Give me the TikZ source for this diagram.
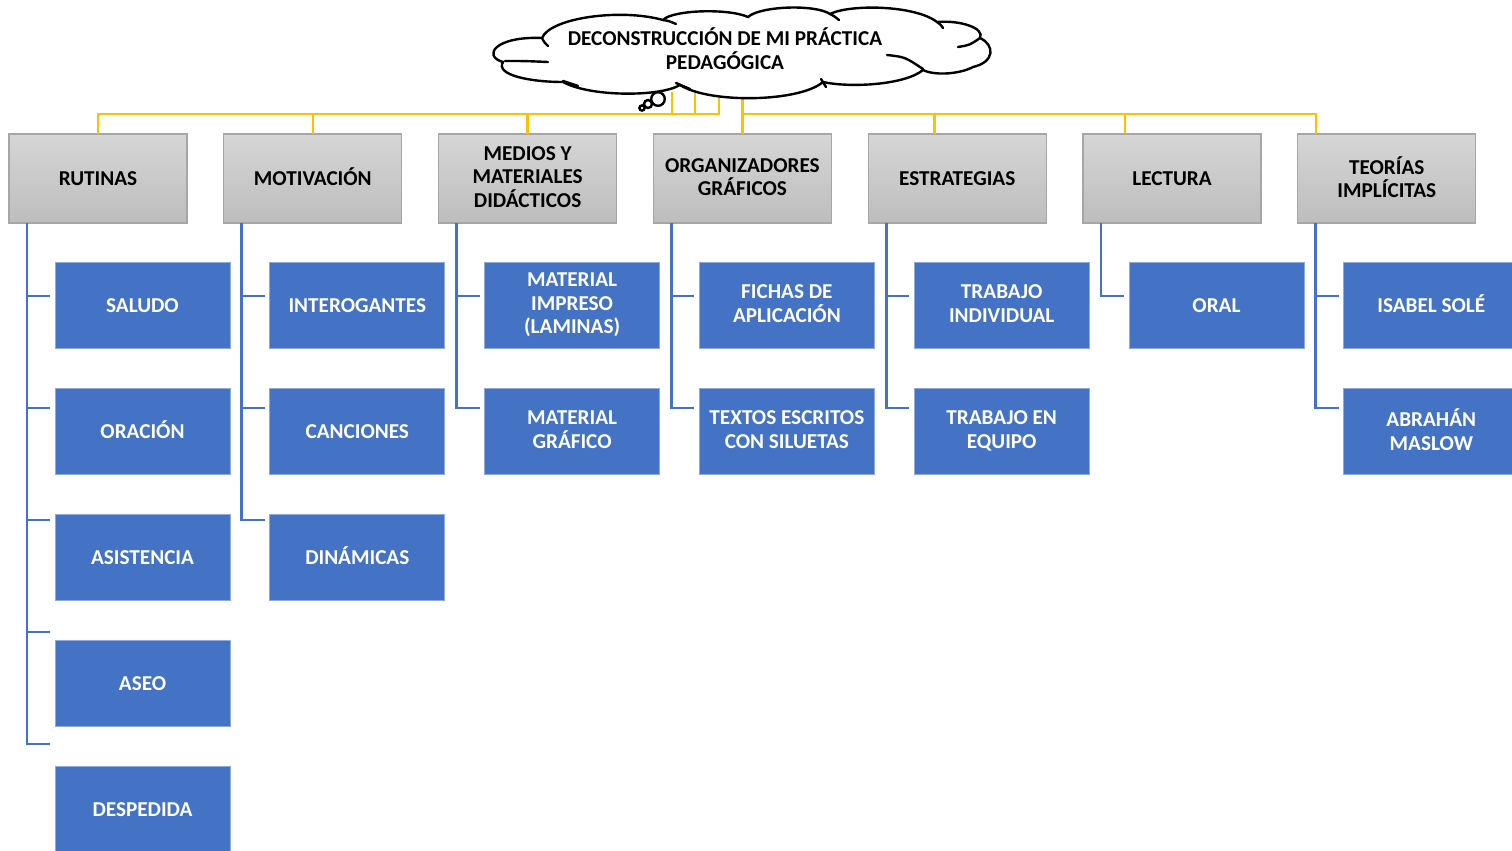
\documentclass[tikz,border=0pt]{standalone}
\usepackage{fontspec}
\setmainfont{Carlito}
\usetikzlibrary{calc}
\definecolor{boxblue}{HTML}{4472C4}
\definecolor{boxedge}{HTML}{8FAADC}
\definecolor{grayedge}{HTML}{A6A6A6}
\definecolor{gtop}{HTML}{D6D6D6}
\definecolor{gbot}{HTML}{BDBDBD}
\definecolor{ylw}{HTML}{FFC000}
\begin{document}
\begin{tikzpicture}[x=0.5pt,y=-0.5pt,
  evenlines/.style={execute at begin node={\vphantom{Ó(}}, execute at end node={\vphantom{(}}},
  headbox/.style={draw=grayedge, line width=0.6pt, top color=gtop, bottom color=gbot,
    minimum width=89pt, minimum height=44.5pt, inner sep=0pt, outer sep=0pt, align=center,
    font=\fontsize{10.6}{11.7}\selectfont\bfseries, evenlines},
  itembox/.style={draw=boxedge, line width=0.4pt, fill=boxblue, text=white,
    minimum width=87.5pt, minimum height=43pt, inner sep=0pt, outer sep=0pt, align=center,
    font=\fontsize{10.6}{11.8}\selectfont\bfseries, evenlines},
  yline/.style={draw=ylw, line width=1.3pt},
  bline/.style={draw=boxblue, line width=1.4pt},
  cloudline/.style={draw=black, line width=1.2pt, line cap=round},
  titletext/.style={align=center, inner sep=0pt, font=\fontsize{10.6}{12}\selectfont\bfseries, evenlines}]
\useasboundingbox (0,0) rectangle (1512,851);

% header boxes
\foreach \i/\t in {0/RUTINAS, 1/MOTIVACIÓN, 2/{MEDIOS Y\\MATERIALES\\DIDÁCTICOS},
  3/{ORGANIZADORES\\GRÁFICOS}, 4/ESTRATEGIAS, 5/LECTURA, 6/{TEORÍAS\\IMPLÍCITAS}}
  \node[headbox] (g\i) at ({98+214.8*\i},178.5) {\t};

% item boxes
\foreach \i/\k/\t in {0/0/SALUDO, 0/1/ORACIÓN, 0/2/ASISTENCIA, 0/3/ASEO, 0/4/DESPEDIDA,
  1/0/INTEROGANTES, 1/1/CANCIONES, 1/2/DINÁMICAS,
  2/0/{MATERIAL\\IMPRESO\\(LAMINAS)}, 2/1/{MATERIAL\\GRÁFICO},
  3/0/{FICHAS DE\\APLICACIÓN}, 3/1/{TEXTOS ESCRITOS\\CON SILUETAS},
  4/0/{TRABAJO\\INDIVIDUAL}, 4/1/{TRABAJO EN\\EQUIPO},
  5/0/ORAL,
  6/0/{ISABEL SOLÉ}, 6/1/{ABRAHÁN\\MASLOW}}
  \node[itembox] (b\i-\k) at ({142.5+214.8*\i},{305+126*\k}) {\t};

% blue connectors
\foreach \i/\n in {0/5,1/3,2/2,3/2,4/2,5/1,6/2} {
  \pgfmathtruncatemacro\m{\n-1}
  \foreach \k in {0,...,\m} {
    \pgfmathsetmacro\ys{4.5+7*\k}
    \draw[bline] ([xshift=9pt]g\i.south west) |- ([xshift=-2.5pt,yshift=\ys pt]b\i-\k.west);
  }
}

% yellow connectors
\coordinate (hbar) at (0,114);
\coordinate (ya) at (672,92);
\coordinate (yb) at (695,92);
\coordinate (yc) at (719,92);
\coordinate (yd) at (742.4,92);
\coordinate (d4) at ([xshift=-11.5pt]g4.north);
\coordinate (d5) at ([xshift=-23.5pt]g5.north);
\coordinate (d6) at ([xshift=-35.5pt]g6.north);
\draw[yline] (yc) -- (yc|-hbar) -- (g0.north|-hbar) -- (g0.north);
\draw[yline] (ya) -- (ya|-hbar);
\draw[yline] (yb) -- (yb|-hbar);
\draw[yline] (g1.north|-hbar) -- (g1.north);
\draw[yline] (g2.north|-hbar) -- (g2.north);
\draw[yline] (yd) -- (g3.north);
\draw[yline] (yd|-hbar) -- (d6|-hbar) -- (d6);
\draw[yline] (d4|-hbar) -- (d4);
\draw[yline] (d5|-hbar) -- (d5);

% cloud
\draw[cloudline, fill=white]
  (542,38) .. controls (550,18) and (620,8) .. (663,20)
  .. controls (672,10) and (728,8) .. (748,17)
  .. controls (760,6) and (815,4) .. (830,14)
  .. controls (850,4) and (915,5) .. (937,22)
  .. controls (960,20) and (985,28) .. (980,38)
  .. controls (995,45) and (995,62) .. (973,67)
  .. controls (960,74) and (935,76) .. (923,70)
  .. controls (905,85) and (850,88) .. (823,82)
  .. controls (800,102) and (710,104) .. (680,85)
  .. controls (660,97) and (590,97) .. (563,82)
  .. controls (530,82) and (495,75) .. (503,62)
  .. controls (482,56) and (495,36) .. (542,38) -- cycle;
\draw[cloudline] (542,38) .. controls (544,42) .. (548,46);
\draw[cloudline] (663,20) .. controls (669,21) .. (676,24);
\draw[cloudline] (830,14) .. controls (834,16) .. (839,20);
\draw[cloudline] (937,22) .. controls (940,24) .. (943,28);
\draw[cloudline] (958,47) .. controls (970,45) .. (980,38);
\draw[cloudline] (887,55) .. controls (905,57) .. (923,69);
\draw[cloudline] (821,79) .. controls (823,83) .. (826,87);
\draw[cloudline] (676,83) .. controls (683,86) .. (690,89);
\draw[cloudline] (563,81) .. controls (570,83) .. (578,86);
\draw[cloudline] (505,61) .. controls (525,61) .. (548,62);
% thought bubbles
\draw[cloudline, fill=white] (658,99) circle[radius=3.4pt];
\draw[cloudline, fill=white] (648,104) circle[radius=2pt];
\draw[cloudline, fill=white] (642,108) circle[radius=1.3pt];

\node[titletext] (title) at (725,50) {DECONSTRUCCIÓN DE MI PRÁCTICA\\PEDAGÓGICA};
\end{tikzpicture}
\end{document}
